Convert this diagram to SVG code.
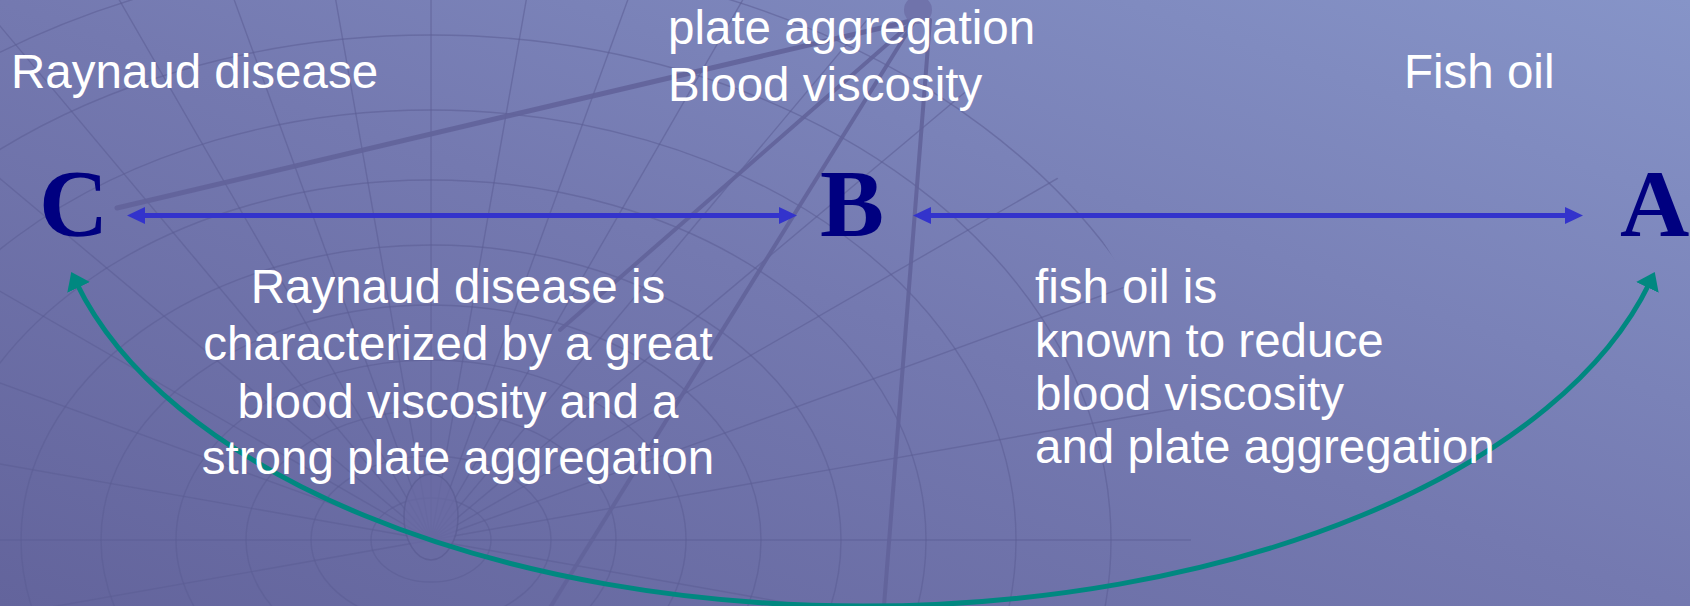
<svg xmlns="http://www.w3.org/2000/svg" width="1690" height="606" viewBox="0 0 1690 606">
<defs>
<linearGradient id="bg" x1="0" y1="1" x2="1" y2="0">
<stop offset="0" stop-color="#63649c"/>
<stop offset="0.5" stop-color="#7479b0"/>
<stop offset="1" stop-color="#8694c8"/>
</linearGradient>
<clipPath id="meshclip"><ellipse cx="431" cy="540" rx="760" ry="640"/></clipPath>
<marker id="blueHead" markerUnits="userSpaceOnUse" markerWidth="18" markerHeight="17" refX="8" refY="8.5" orient="auto-start-reverse">
<path d="M0,0 L18,8.5 L0,17 z" fill="#3333cc"/>
</marker>
<marker id="tealHead" markerUnits="userSpaceOnUse" markerWidth="17" markerHeight="25" refX="6" refY="12.5" orient="auto-start-reverse">
<path d="M0,0 L17,12.5 L0,25 z" fill="#008880"/>
</marker>
<style>
.lbl{font-family:"Liberation Sans",Arial,sans-serif;font-size:47.5px;fill:#ffffff}
.letter{font-family:"Liberation Serif","Times New Roman",serif;font-weight:bold;font-size:96px;fill:#000080}
.mesh{fill:none;stroke:#5b5c93;stroke-width:1.4;opacity:0.55}
.pole{fill:none;stroke:#62639a;stroke-linecap:round;opacity:0.9}
.blue{stroke:#3333cc;stroke-width:5;fill:none}
.teal{stroke:#008880;stroke-width:5;fill:none}
</style>
</defs>
<g id="background">
<rect width="1690" height="606" fill="url(#bg)"/>
<g clip-path="url(#meshclip)">
<ellipse class="mesh" cx="431" cy="540" rx="60" ry="42"/>
<ellipse class="mesh" cx="431" cy="540" rx="120" ry="84"/>
<ellipse class="mesh" cx="431" cy="540" rx="185" ry="130"/>
<ellipse class="mesh" cx="431" cy="540" rx="255" ry="180"/>
<ellipse class="mesh" cx="431" cy="540" rx="330" ry="235"/>
<ellipse class="mesh" cx="431" cy="540" rx="410" ry="295"/>
<ellipse class="mesh" cx="431" cy="540" rx="495" ry="360"/>
<ellipse class="mesh" cx="431" cy="540" rx="585" ry="430"/>
<ellipse class="mesh" cx="431" cy="540" rx="680" ry="505"/>
<ellipse class="mesh" cx="431" cy="540" rx="780" ry="585"/>
<path class="mesh" d="M431,540 L-369,540 M431,540 L-357,401 M431,540 L-321,266 M431,540 L-262,140 M431,540 L-182,26 M431,540 L-83,-73 M431,540 L31,-153 M431,540 L157,-212 M431,540 L292,-248 M431,540 L431,-260 M431,540 L570,-248 M431,540 L705,-212 M431,540 L831,-153 M431,540 L945,-73 M431,540 L1044,26 M431,540 L1124,140 M431,540 L1183,266 M431,540 L1219,401 M431,540 L1231,540 M431,540 L1219,679 M431,540 L-357,679"/>
</g>
<ellipse cx="431" cy="517" rx="27" ry="43" fill="#6a6ba4" stroke="#5b5c93" stroke-width="1.5" opacity="0.7"/>
<path class="pole" stroke-width="5" d="M915,20 L117,208"/>
<path class="pole" stroke-width="4" d="M915,20 L560,330"/>
<path class="pole" stroke-width="4" d="M915,20 L551,606"/>
<path class="pole" stroke-width="4" d="M930,20 L884,606"/>
<circle cx="918" cy="10" r="14" fill="#6d6ea6" opacity="0.8"/>
</g>
<g id="connectors">
<line id="c-b" class="blue" x1="137" y1="215.5" x2="787" y2="215.5" marker-start="url(#blueHead)" marker-end="url(#blueHead)"/>
<line id="b-a" class="blue" x1="923" y1="215.5" x2="1573" y2="215.5" marker-start="url(#blueHead)" marker-end="url(#blueHead)"/>
<path id="c-a" class="teal" d="M76,282 A812,430 0 0,0 1650,282" marker-start="url(#tealHead)" marker-end="url(#tealHead)"/>
</g>
<g id="node-C">
<text class="letter" x="39" y="236">C</text>
<text class="lbl" x="11" y="88">Raynaud disease</text>
</g>
<g id="node-B">
<text class="letter" x="820" y="236">B</text>
<text class="lbl" x="668" y="44">plate aggregation</text>
<text class="lbl" x="668" y="101">Blood viscosity</text>
</g>
<g id="node-A">
<text class="letter" x="1620" y="236">A</text>
<text class="lbl" x="1404" y="88">Fish oil</text>
</g>
<g id="label-c-b">
<text class="lbl" text-anchor="middle" x="458" y="303">Raynaud disease is</text>
<text class="lbl" text-anchor="middle" x="458" y="360">characterized by a great</text>
<text class="lbl" text-anchor="middle" x="458" y="418">blood viscosity and a</text>
<text class="lbl" text-anchor="middle" x="458" y="474">strong plate aggregation</text>
</g>
<g id="label-b-a">
<text class="lbl" x="1035" y="303">fish oil is</text>
<text class="lbl" x="1035" y="357">known to reduce</text>
<text class="lbl" x="1035" y="410">blood viscosity</text>
<text class="lbl" x="1035" y="463">and plate aggregation</text>
</g>
</svg>
